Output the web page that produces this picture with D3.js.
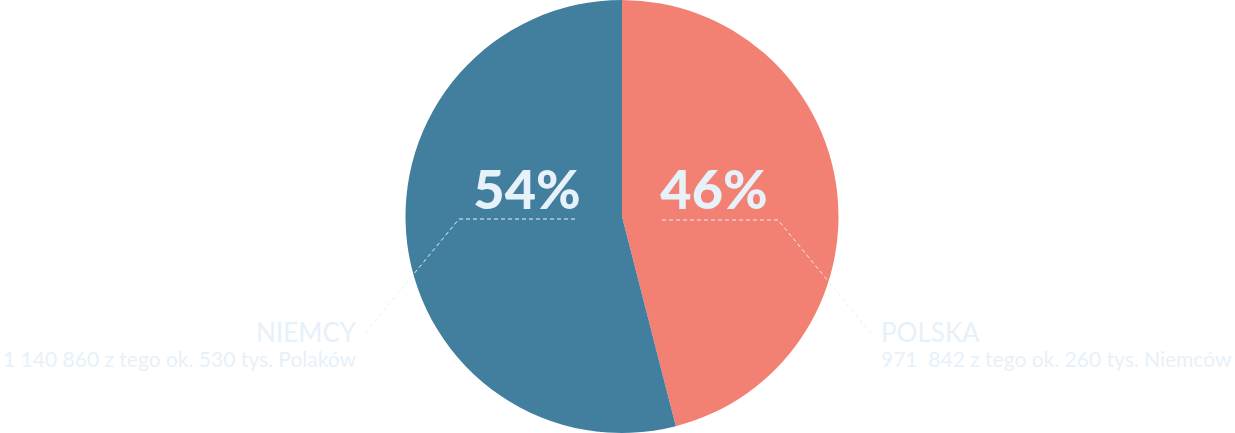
<!DOCTYPE html>
<html>
<head>
<meta charset="utf-8">
<script src="https://cdn.jsdelivr.net/npm/d3@7"></script>
<style>
  body { margin: 0; background: #fff; }
  #chart { width: 1235px; height: 433px; }
</style>
</head>
<body>
<div id="chart"></div>
<script>
// data
const countries = ['POLSKA', 'NIEMCY'];
const population = [971842, 1140860];
const percentLabels = ['46%', '54%'];
const details = ['971  842 z tego ok. 260 tys. Niemców', '1 140 860 z tego ok. 530 tys. Polaków'];
const colors = ['#f28174', '#427f9f'];

const width = 1235, height = 433;
const cx = 622, cy = 216.5, r = 216.5;
const lightText = '#e6f1fa';

const svg = d3.select('#chart').append('svg')
  .attr('width', width).attr('height', height);
const g = svg.append('g').attr('transform', 'translate(' + cx + ',' + cy + ')');

const pie = d3.pie().sort(null).value(d => d);
const arc = d3.arc().innerRadius(0).outerRadius(r);
const arcs = pie(population);

g.selectAll('path')
  .data(arcs)
  .enter()
  .append('path')
  .attr('d', arc)
  .attr('fill', (d, i) => colors[i]);

// percent labels
const pctX = [92, -95];
g.selectAll('text.pct')
  .data(arcs)
  .enter()
  .append('text')
  .attr('class', 'pct')
  .attr('x', (d, i) => pctX[i])
  .attr('y', -8)
  .attr('text-anchor', 'middle')
  .attr('font-family', 'Lato, sans-serif')
  .attr('font-weight', 900)
  .attr('font-size', 54)
  .attr('fill', lightText)
  .text((d, i) => percentLabels[i]);

// leader lines: [start, elbow, end] relative to centre
const leaders = [
  [[40, 3.5], [156, 3.5], [250, 118]],
  [[-47, 2.5], [-163, 2.5], [-258, 118]]
];
const line = d3.line();
g.selectAll('path.leader')
  .data(leaders)
  .enter()
  .append('path')
  .attr('class', 'leader')
  .attr('d', d => line(d))
  .attr('fill', 'none')
  .attr('stroke', lightText)
  .attr('stroke-width', 1)
  .attr('stroke-dasharray', '4,3');

// side labels
const labelX = [881 - cx, 356 - cx];
const anchors = ['start', 'end'];
g.selectAll('text.name')
  .data(countries)
  .enter()
  .append('text')
  .attr('class', 'name')
  .attr('x', (d, i) => labelX[i])
  .attr('y', 342 - cy)
  .attr('text-anchor', (d, i) => anchors[i])
  .attr('font-family', 'Lato, sans-serif')
  .attr('font-weight', 400)
  .attr('font-size', 26)
  .attr('fill', lightText)
  .text(d => d);

g.selectAll('text.detail')
  .data(details)
  .enter()
  .append('text')
  .attr('class', 'detail')
  .attr('x', (d, i) => labelX[i])
  .attr('y', 367 - cy)
  .attr('text-anchor', (d, i) => anchors[i])
  .attr('font-family', 'Lato, sans-serif')
  .attr('font-size', 21)
  .attr('fill', lightText)
  .attr('xml:space', 'preserve')
  .style('white-space', 'pre')
  .text(d => d);
</script>
</body>
</html>
